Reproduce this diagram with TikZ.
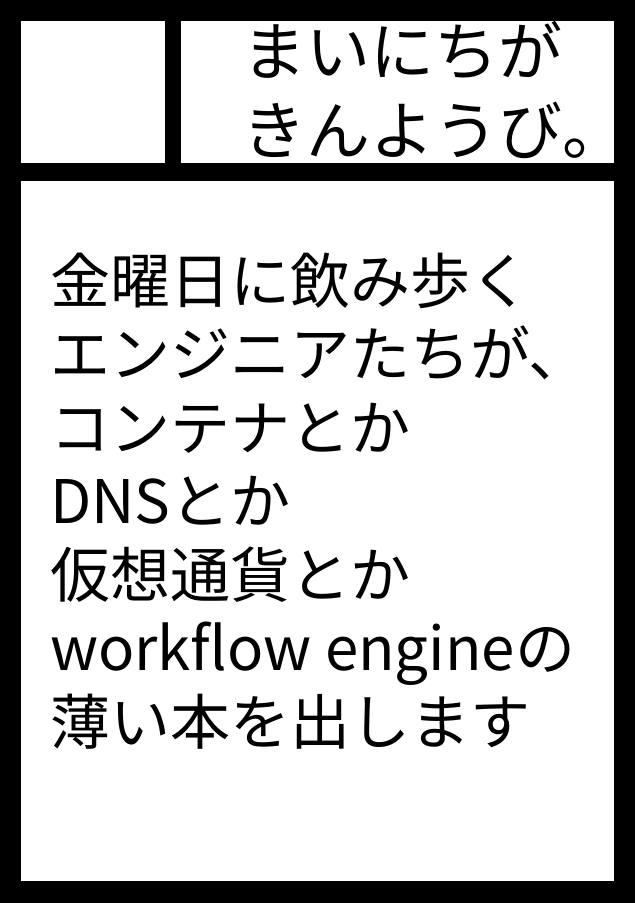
\documentclass[tikz,border=0pt]{standalone}
\usepackage{fontspec}
\newfontfamily\jpfont{Noto Sans CJK JP}
\usetikzlibrary{positioning}

\tikzset{
  panel/.style={fill=white,draw=none},
  headtext/.style={font=\jpfont\fontsize{64}{79}\selectfont,text=black,anchor=base west,inner sep=0pt},
  bodytext/.style={font=\jpfont\fontsize{60}{73.5}\selectfont,text=black,anchor=base west,inner sep=0pt}
}

\begin{document}
\begin{tikzpicture}[x=1pt,y=-1pt]
\fill[black] (0,0) rectangle (635,903);
\useasboundingbox (0,0) rectangle (635,903);
\fill[panel] (20.5,21) rectangle (165,163);
\fill[panel] (181,21) rectangle (613.5,163);
\fill[panel] (20.5,181) rectangle (613.5,881);

\node[headtext] (head1) at (242,75) {まいにちが};
\node[headtext] (head2) at (242,154) {きんようび。};

\node[bodytext] (line1) at (50,303) {金曜日に飲み歩く};
\node[bodytext] (line2) at (50,376.5) {エンジニアたちが、};
\node[bodytext] (line3) at (50,450) {コンテナとか};
\node[bodytext] (line4) at (50,523.5) {DNSとか};
\node[bodytext] (line5) at (50,597) {仮想通貨とか};
\node[bodytext] (line6) at (50,670.5) {workflow engineの};
\node[bodytext] (line7) at (50,744) {薄い本を出します};
\end{tikzpicture}
\end{document}
